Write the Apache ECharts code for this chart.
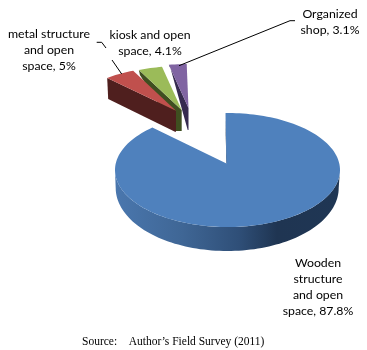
<!DOCTYPE html>
<html>
<head>
<meta charset="utf-8">
<style>html,body{margin:0;padding:0;background:#fff}#c{width:367px;height:350px}</style>
<script src="https://cdn.jsdelivr.net/npm/echarts@6/dist/echarts.min.js"></script>
</head>
<body>
<div id="c"></div>
<script>
const categories = ['Wooden\nstructure\nand open\nspace', 'metal structure\nand open\nspace', 'kiosk and open\nspace', 'Organized\nshop'];
const shares = [87.8, 5, 4.1, 3.1];
const topColors = ['#4f81bd', '#c0504d', '#9bbb59', '#8064a2'];
const sideColors = ['#1f3552', '#4f1f1e', '#3f4f20', '#362a4f'];
const sourceNote = 'Source:    Author\u2019s Field Survey (2011)';

// layout only
const slices = [
  {apex: [226.5, 163.5], cx: 227.5, cy: 170, rx: 112.5, ry: 57},
  {apex: [176, 110.7], rx: 103, ry: 44, outerDepth: 21, apexDepth: 21},
  {apex: [181.7, 110], rx: 103, ry: 44, outerDepth: 5, apexDepth: 21},
  {apex: [188.5, 108], rx: 103, ry: 44, outerDepth: 1, apexDepth: 22}
];
const labelAnchors = [[318, 254.5], [49, 25.5], [150, 26.5], [330, 5.5]];
const leaders = [
  [[96.7, 42.3], [101.7, 42.3], [106, 48]],
  [[112, 60], [121.7, 74]],
  [[295, 20.7], [290, 20.7], [179, 65.7]]
];

const rad = d => d * Math.PI / 180;
const warp = d => d - 1 - 3 * Math.sin(rad(2 * d));
const total = shares.reduce((a, b) => a + b, 0);
const starts = shares.map((_, i) => shares.slice(0, i).reduce((a, b) => a + b, 0) / total * 360);
const ends = shares.map((v, i) => starts[i] + v / total * 360);

function arc(cx, cy, rx, ry, from, to, warped) {
  const pts = [];
  const n = Math.max(6, Math.ceil(Math.abs(to - from) / 2));
  for (let k = 0; k <= n; k++) {
    const d = from + (to - from) * k / n;
    const a = rad(warped ? warp(d) : d);
    pts.push([cx + rx * Math.sin(a), cy - ry * Math.cos(a)]);
  }
  return pts;
}

function renderSlice(params, api) {
  const i = api.value(0);
  const s = slices[i];
  if (i === 0) {
    const top = arc(s.cx, s.cy, s.rx, s.ry, starts[0], ends[0], true);
    const frontTop = arc(s.cx, s.cy, s.rx, s.ry, 90, 270, false);
    const frontBottom = arc(s.cx - 0.3, s.cy + 18, s.rx - 1, 63, 270, 90, false);
    return {type: 'group', children: [
      {type: 'polygon', shape: {points: frontTop.concat(frontBottom)},
        style: {fill: {type: 'linear', x: 0, y: 0, x2: 1, y2: 0, colorStops: [
          {offset: 0, color: '#4a77ae'},
          {offset: 0.3, color: '#3f6695'},
          {offset: 0.55, color: '#2f4f78'},
          {offset: 0.72, color: '#1f3552'},
          {offset: 1, color: '#1f3654'}]}}},
      {type: 'polygon', shape: {points: [[s.apex[0] - 1.5, s.apex[1] - 51], [s.apex[0] + 0.8, s.apex[1]], [s.apex[0], s.apex[1]]]},
        style: {fill: sideColors[0]}},
      {type: 'polygon', shape: {points: [s.apex].concat(top)}, style: {fill: topColors[0]}}
    ]};
  }
  const c = {x: s.apex[0], y: s.apex[1]};
  const top = arc(c.x, c.y, s.rx, s.ry, starts[i], ends[i], true);
  const o = top[0];
  const side = [o, s.apex, [c.x, c.y + s.apexDepth], [c.x - (i === 1 ? 1 : 0) - (i === 1 ? 0 : (i === 2 ? 5.7 : 0.8)), c.y + s.apexDepth], [o[0] + 1, o[1] + s.outerDepth]];
  return {type: 'group', children: [
    {type: 'polygon', shape: {points: side}, style: {fill: sideColors[i]}},
    {type: 'polygon', shape: {points: [s.apex].concat(top)}, style: {fill: topColors[i]}}
  ]};
}

function renderLabel(params, api) {
  const i = api.value(0);
  return {type: 'text', style: {
    text: categories[i] + ', ' + shares[i] + '%',
    x: labelAnchors[i][0], y: labelAnchors[i][1],
    textAlign: 'center', textVerticalAlign: 'top',
    font: '12.3px Lato', lineHeight: 16.2, fill: '#000'
  }};
}

function renderLeader(params, api) {
  const pts = leaders[api.value(0)];
  return {type: 'polyline', shape: {points: pts}, style: {stroke: '#000', lineWidth: 1, fill: 'none'}};
}

const chart = echarts.init(document.getElementById('c'), null, {renderer: 'canvas'});
chart.setOption({
  animation: false,
  backgroundColor: '#fff',
  graphic: [{type: 'text', left: 82, top: 336, style: {text: sourceNote, font: '11.5px "Liberation Serif"', fill: '#000'}}],
  series: [
    {type: 'custom', coordinateSystem: 'none', silent: true, renderItem: renderSlice, data: [[0], [3], [2], [1]], z: 2},
    {type: 'custom', coordinateSystem: 'none', silent: true, renderItem: renderLeader, data: leaders.map((_, i) => [i]), z: 3},
    {type: 'custom', coordinateSystem: 'none', silent: true, renderItem: renderLabel, data: categories.map((_, i) => [i]), z: 4}
  ]
});
</script>
</body>
</html>
